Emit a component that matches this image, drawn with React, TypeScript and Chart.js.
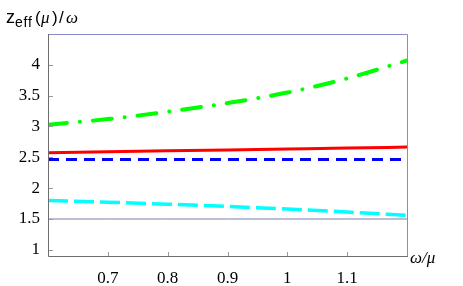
import React, { useEffect, useRef } from "react";
import { Chart, registerables } from "chart.js";

Chart.register(...registerables);

const xValues = [0.6, 0.7, 0.8, 0.9, 1.0, 1.1, 1.2];
const greenValues = [3.03, 3.12, 3.24, 3.38, 3.55, 3.78, 4.07];
const redValues = [2.575, 2.59, 2.605, 2.62, 2.635, 2.65, 2.667];
const blueValues = [2.465, 2.465, 2.465, 2.465, 2.465, 2.465, 2.465];
const cyanValues = [1.8, 1.772, 1.74, 1.703, 1.662, 1.613, 1.56];
const baseValues = [1.5, 1.5, 1.5, 1.5, 1.5, 1.5, 1.5];
const xTicks = [0.7, 0.8, 0.9, 1, 1.1];
const yTicks = [1, 1.5, 2, 2.5, 3, 3.5, 4];

const SERIF = "'Liberation Serif', 'Times New Roman', serif";

const pts = (ys: number[]) => xValues.map((x, i) => ({ x, y: ys[i] }));

const framePlugin = {
  id: "framePlugin",
  afterDraw(chart: any) {
    const { ctx, chartArea } = chart;
    const { left, right, top, bottom } = chartArea;
    const xs = chart.scales.x;
    const ys = chart.scales.y;
    ctx.save();
    ctx.lineWidth = 1;
    ctx.strokeStyle = "#8a8acc";
    ctx.beginPath();
    ctx.moveTo(left, top + 0.5);
    ctx.lineTo(right + 0.5, top + 0.5);
    ctx.lineTo(right + 0.5, bottom);
    ctx.stroke();
    ctx.strokeStyle = "#6e6e6e";
    ctx.beginPath();
    ctx.moveTo(left + 0.5, top);
    ctx.lineTo(left + 0.5, bottom + 0.5);
    ctx.lineTo(right + 1, bottom + 0.5);
    ctx.stroke();
    ctx.strokeStyle = "#9a9a9a";
    ctx.beginPath();
    yTicks.forEach((v) => {
      const y = Math.round(ys.getPixelForValue(v)) + 0.5;
      ctx.moveTo(left + 1, y);
      ctx.lineTo(left + 5, y);
    });
    xTicks.forEach((v) => {
      const x = Math.round(xs.getPixelForValue(v)) + 0.5;
      ctx.moveTo(x, bottom);
      ctx.lineTo(x, bottom - 4);
    });
    ctx.stroke();
    ctx.fillStyle = "#000";
    ctx.textBaseline = "alphabetic";
    ctx.textAlign = "left";
    ctx.font = "18px 'Liberation Sans', Arial, sans-serif";
    ctx.fillText("z", 6, 23);
    ctx.font = "14px 'Liberation Sans', Arial, sans-serif";
    (ctx as any).letterSpacing = "0.8px";
    ctx.fillText("eff", 15, 27);
    (ctx as any).letterSpacing = "0px";
    ctx.font = "17px 'Liberation Sans', Arial, sans-serif";
    ctx.fillText("(", 35, 23);
    ctx.fillText(")", 52, 23);
    ctx.fillText("/", 59, 23);
    ctx.font = "italic 17px " + SERIF;
    ctx.fillText("μ", 41, 23);
    ctx.fillText("ω", 66, 23);
    ctx.font = "italic 17px " + SERIF;
    ctx.fillText("ω/μ", 410, 263);
    ctx.restore();
  },
};

export default function App() {
  const ref = useRef<HTMLCanvasElement>(null);
  useEffect(() => {
    document.body.style.margin = "0";
    const canvas = ref.current;
    if (!canvas) return;
    const chart = new Chart(canvas, {
      type: "line",
      data: {
        datasets: [
          {
            data: pts(baseValues),
            borderColor: "#7c7cac",
            borderWidth: 1,
            pointRadius: 0,
          },
          {
            data: pts(cyanValues),
            borderColor: "#00ffff",
            borderWidth: 3.5,
            borderDash: [20, 6],
            pointRadius: 0,
            cubicInterpolationMode: "monotone",
          },
          {
            data: pts(blueValues),
            borderColor: "#0000ff",
            borderWidth: 3,
            borderDash: [11, 7],
            pointRadius: 0,
          },
          {
            data: pts(redValues),
            borderColor: "#ff0000",
            borderWidth: 3,
            pointRadius: 0,
            cubicInterpolationMode: "monotone",
          },
          {
            data: pts(greenValues),
            borderColor: "#00ff00",
            borderWidth: 4,
            borderDash: [19, 13, 0.01, 13],
            borderCapStyle: "round",
            pointRadius: 0,
            cubicInterpolationMode: "monotone",
          },
        ],
      } as any,
      options: {
        animation: false,
        responsive: false,
        maintainAspectRatio: false,
        layout: { padding: { top: 34, right: 56, left: 0, bottom: 0 } },
        plugins: { legend: { display: false }, tooltip: { enabled: false } },
        scales: {
          x: {
            type: "linear",
            min: 0.6,
            max: 1.2,
            grid: { display: false, drawTicks: false },
            border: { display: false },
            ticks: {
              padding: 12,
              color: "#000",
              font: { family: SERIF, size: 17 },
              autoSkip: false,
              maxRotation: 0,
              callback: (v: any) => String(v),
            },
            afterBuildTicks: (s: any) => {
              s.ticks = xTicks.map((v) => ({ value: v }));
            },
            afterFit: (s: any) => {
              s.height = 30;
            },
          },
          y: {
            type: "linear",
            min: 0.9,
            max: 4.5,
            grid: { display: false, drawTicks: false },
            border: { display: false },
            ticks: {
              padding: 8,
              color: "#000",
              font: { family: SERIF, size: 17 },
              autoSkip: false,
              callback: (v: any) => String(v),
            },
            afterBuildTicks: (s: any) => {
              s.ticks = yTicks.map((v) => ({ value: v }));
            },
            afterFit: (s: any) => {
              s.width = 48;
            },
          },
        },
      } as any,
      plugins: [framePlugin],
    });
    return () => chart.destroy();
  }, []);
  return (
    <div style={{ width: 463, height: 286 }}>
      <canvas ref={ref} width={463} height={286} style={{ display: "block" }} />
    </div>
  );
}
